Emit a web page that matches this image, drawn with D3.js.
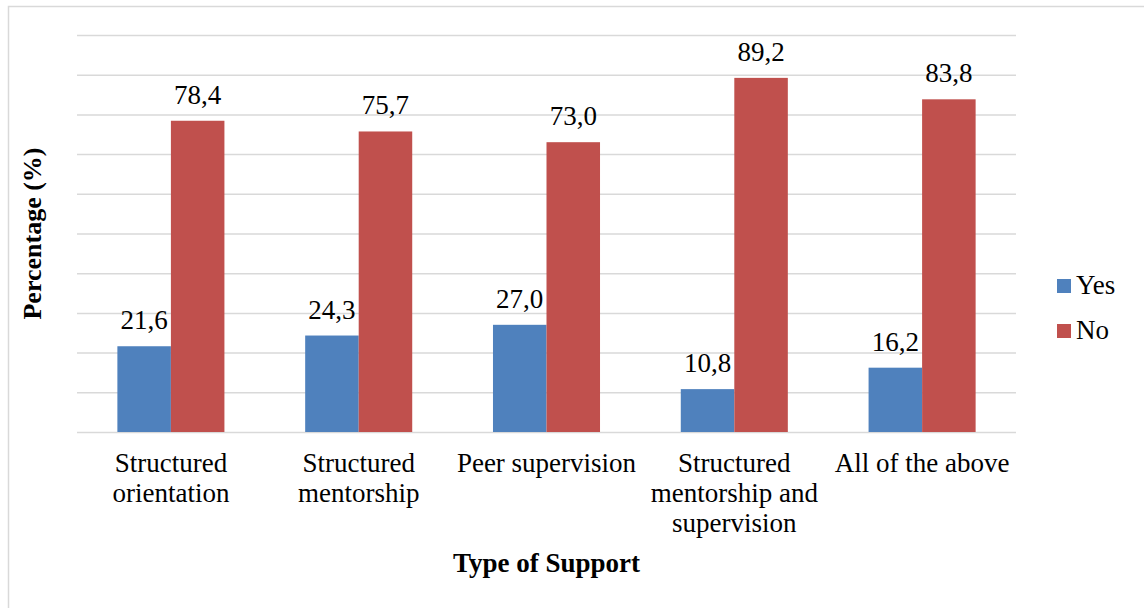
<!DOCTYPE html>
<html>
<head>
<meta charset="utf-8">
<script src="https://cdn.jsdelivr.net/npm/d3@7"></script>
<style>
  html, body { margin: 0; padding: 0; background: #ffffff; }
  svg { display: block; }
  svg text { font-family: "Liberation Serif", "Times New Roman", serif; fill: #000; }
</style>
</head>
<body>
<svg id="chart" width="1144" height="608"></svg>
<script>
// Type of support received, share of respondents answering Yes / No
const categories = [
  "Structured orientation",
  "Structured mentorship",
  "Peer supervision",
  "Structured mentorship and supervision",
  "All of the above"
];
const seriesNames = ["Yes", "No"];
const yesValues = [21.6, 24.3, 27.0, 10.8, 16.2];
const noValues = [78.4, 75.7, 73.0, 89.2, 83.8];
const yTicks = [0, 10, 20, 30, 40, 50, 60, 70, 80, 90, 100];
const colors = { Yes: "#4F81BD", No: "#C0504D" };

const rows = categories.map((c, i) => ({ category: c, Yes: yesValues[i], No: noValues[i] }));

const svg = d3.select("#chart");
const plot = { left: 77, right: 1016, top: 35, bottom: 432 };
const fontSize = 27;

// outer frame
svg.append("rect")
  .attr("x", 8.5).attr("y", 6.5)
  .attr("width", 1300).attr("height", 700)
  .attr("fill", "none").attr("stroke", "#d9d9d9").attr("stroke-width", 1.5);

const x0 = d3.scaleBand().domain(categories).range([plot.left, plot.right]).padding(0);
const groupPad = 0.215;
const x1 = d3.scaleBand().domain(seriesNames)
  .range([x0.bandwidth() * groupPad, x0.bandwidth() * (1 - groupPad)]).padding(0);
const y = d3.scaleLinear().domain([0, 100]).range([plot.bottom, plot.top]);

// horizontal gridlines
const yAxis = d3.axisLeft(y).tickValues(yTicks)
  .tickSize(-(plot.right - plot.left)).tickFormat("");
const gy = svg.append("g").attr("transform", `translate(${plot.left},0)`).call(yAxis);
gy.select(".domain").remove();
gy.selectAll(".tick line").attr("stroke", "#d9d9d9").attr("stroke-width", 1.5);

// bars
const groups = svg.append("g").selectAll("g").data(rows).join("g")
  .attr("transform", d => `translate(${x0(d.category)},0)`);

groups.selectAll("rect")
  .data(d => seriesNames.map(s => ({ key: s, value: d[s] })))
  .join("rect")
  .attr("x", d => x1(d.key))
  .attr("y", d => y(d.value))
  .attr("width", x1.bandwidth())
  .attr("height", d => y(0) - y(d.value))
  .attr("fill", d => colors[d.key]);

// value labels
groups.selectAll("text.val")
  .data(d => seriesNames.map(s => ({ key: s, value: d[s] })))
  .join("text")
  .attr("class", "val")
  .attr("x", d => x1(d.key) + x1.bandwidth() / 2)
  .attr("y", d => y(d.value) - 17)
  .attr("text-anchor", "middle")
  .attr("font-size", fontSize)
  .text(d => d.value.toFixed(1).replace(".", ","));

// category axis labels, wrapped to the band width
const xAxis = d3.axisBottom(x0).tickSize(0).tickPadding(0);
const gx = svg.append("g").attr("transform", `translate(0,${plot.bottom})`).call(xAxis);
gx.attr("font-family", null).attr("font-size", null);
gx.select(".domain").remove();
gx.selectAll(".tick text").each(function(label) {
  const t = d3.select(this);
  t.text(null)
    .attr("font-size", fontSize)
    .attr("fill", null)
    .attr("y", 0).attr("dy", null);
  const words = label.split(" ");
  const maxW = x0.bandwidth() - 4;
  const lines = [];
  let line = [];
  const probe = t.append("tspan");
  words.forEach(w => {
    const trial = line.concat([w]).join(" ");
    probe.text(trial);
    if (probe.node().getComputedTextLength() > maxW && line.length) {
      lines.push(line.join(" "));
      line = [w];
    } else {
      line.push(w);
    }
  });
  lines.push(line.join(" "));
  probe.remove();
  lines.forEach((l, i) => {
    t.append("tspan").attr("x", 0).attr("y", 40 + i * 30).text(l);
  });
});

// axis titles
svg.append("text")
  .attr("x", (plot.left + plot.right) / 2)
  .attr("y", 572)
  .attr("text-anchor", "middle")
  .attr("font-size", fontSize)
  .attr("font-weight", "bold")
  .text("Type of Support");

svg.append("text")
  .attr("transform", `translate(41,${(plot.top + plot.bottom) / 2}) rotate(-90)`)
  .attr("text-anchor", "middle")
  .attr("font-size", 26)
  .attr("font-weight", "bold")
  .text("Percentage (%)");

// legend
const legend = svg.append("g").attr("transform", "translate(1057,279)");
const li = legend.selectAll("g").data(seriesNames).join("g")
  .attr("transform", (d, i) => `translate(0,${i * 45})`);
li.append("rect").attr("width", 14).attr("height", 14).attr("fill", d => colors[d]);
li.append("text").attr("x", 19).attr("y", 15)
  .attr("font-size", fontSize).text(d => d);
</script>
</body>
</html>
